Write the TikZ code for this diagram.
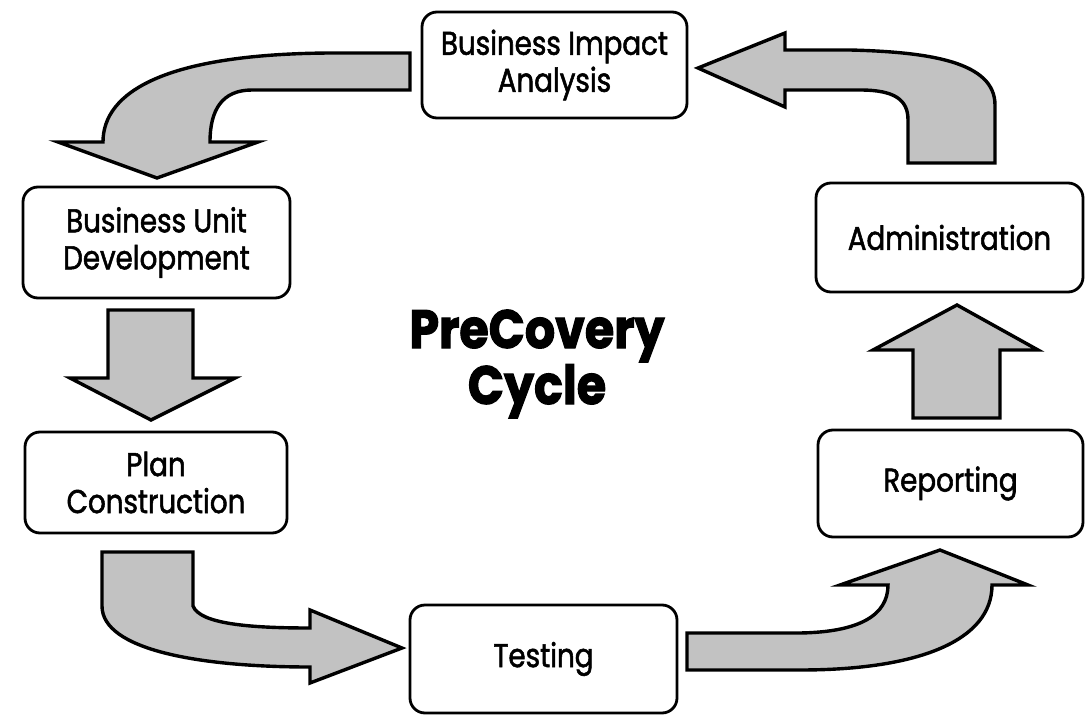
\documentclass[tikz,border=0pt]{standalone}
\usepackage{fontspec}
\newfontfamily\boxfont[FakeStretch=0.84, FakeBold=1.6]{Poppins}
\newfontfamily\titlefont[FakeStretch=0.88, FakeBold=2]{Poppins Bold}
\begin{document}
\begin{tikzpicture}[x=1pt,y=-1pt,
  stage/.style={draw=black, line width=2.8pt, rounded corners=15pt, fill=white,
    align=center, font=\boxfont\fontsize{33}{37}\selectfont, inner sep=0pt},
  blockarrow/.style={draw=black, line width=3.4pt, fill=black!24, line join=miter}]
\useasboundingbox (0,0) rectangle (1090,717);

% stages of the cycle
\node[stage, minimum width=265pt, minimum height=106pt] (bia) at (554.5,65) {Business Impact\\Analysis};
\node[stage, minimum width=267pt, minimum height=111pt] (bud) at (156.5,242.5) {Business Unit\\Development};
\node[stage, minimum width=262pt, minimum height=101pt] (plan) at (156,482.5) {Plan\\Construction};
\node[stage, minimum width=267pt, minimum height=108pt] (test) at (543.5,659) {Testing};
\node[stage, minimum width=265pt, minimum height=107pt] (rep) at (950.5,483.5) {Reporting};
\node[stage, minimum width=267pt, minimum height=109pt] (adm) at (949.5,237.5) {Administration};

% title in the middle
\node[align=center, font=\titlefont\fontsize{54}{56}\selectfont, inner sep=0pt] (title) at (537,364) {PreCovery\\Cycle};

% curved arrow: impact analysis -> business unit development
\draw[blockarrow] (410,53) -- (330,53) .. controls (165,54) and (103,92) .. (103,142)
  -- (58,142) -- (157,178) -- (258,142) -- (210,142)
  .. controls (210,110) and (222,90) .. (252,90) -- (410,90) -- cycle;

% straight arrow: development -> plan construction
\draw[blockarrow] (108,310) -- (193,310) -- (193,378) -- (235,378) -- (151,420)
  -- (70,378) -- (108,378) -- cycle;

% curved arrow: plan construction -> testing
\draw[blockarrow] (102,552) -- (193,552) -- (193,606)
  .. controls (200,624) and (250,628) .. (310,628) -- (310,610) -- (402,648)
  -- (310,683) -- (310,667) .. controls (200,667) and (102,650) .. (102,606) -- cycle;

% curved arrow: testing -> reporting
\draw[blockarrow] (687,633) -- (800,633) .. controls (860,632) and (888,615) .. (888,585)
  -- (840,585) -- (940,550) -- (1028,585) -- (992,585)
  .. controls (992,640) and (920,670) .. (800,670) -- (687,670) -- cycle;

% straight arrow: reporting -> administration
\draw[blockarrow] (913,418) -- (1000,418) -- (1000,350) -- (1038,350) -- (957,305)
  -- (873,350) -- (913,350) -- cycle;

% curved arrow: administration -> impact analysis
\draw[blockarrow] (995,163) -- (908,163) -- (908,120)
  .. controls (908,100) and (895,90) .. (860,90) -- (785,90) -- (785,107)
  -- (698,68) -- (785,33) -- (785,50) -- (850,50)
  .. controls (930,52) and (995,62) .. (995,105) -- cycle;
\end{tikzpicture}
\end{document}
